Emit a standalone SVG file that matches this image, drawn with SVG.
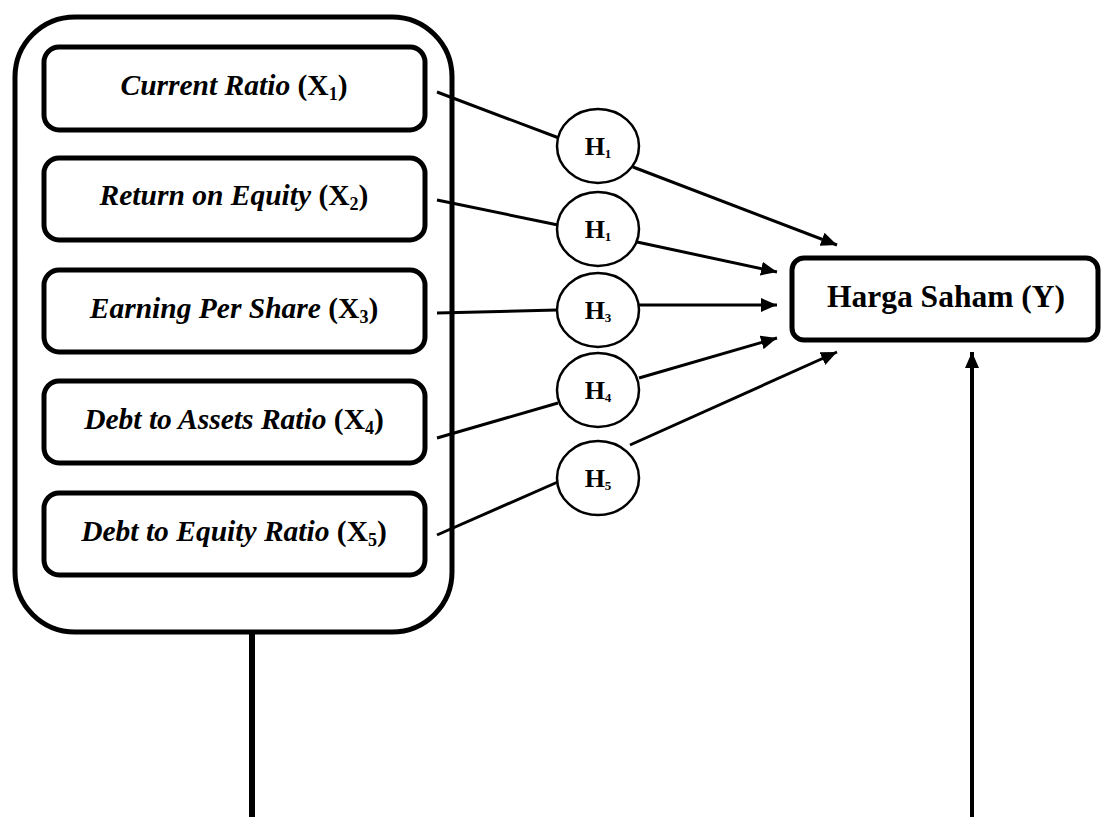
<svg xmlns="http://www.w3.org/2000/svg" width="1103" height="817" viewBox="0 0 1103 817">
<style>
.box{fill:#fff;stroke:#000;stroke-width:5}
.hyp{fill:#fff;stroke:#000;stroke-width:2.5}
.lbl{font-family:"Liberation Serif","Times New Roman",serif;font-weight:bold;font-style:italic;font-size:29.5px;text-anchor:middle;fill:#000}
.up{font-style:normal}
.ylbl{font-family:"Liberation Serif","Times New Roman",serif;font-weight:bold;font-size:31.5px;text-anchor:middle;fill:#000}
.hl{font-family:"Liberation Serif","Times New Roman",serif;font-weight:bold;font-size:26px;text-anchor:middle;fill:#000}
.ln{stroke:#000;stroke-width:3;fill:none}
.arr{stroke:#000;stroke-width:3;fill:none;marker-end:url(#ah)}
</style>
<defs>
<marker id="ah" markerUnits="userSpaceOnUse" markerWidth="18" markerHeight="14" refX="16" refY="7" orient="auto">
<path d="M0,0 L16,7 L0,14 Z" fill="#000"/>
</marker>
</defs>
<rect width="1103" height="817" fill="#fff"/>
<g id="outer">
<rect x="15" y="17" width="437" height="615" rx="60" ry="60" class="box"/>
</g>
<g id="connectors">
<line class="ln" x1="437" y1="92" x2="559" y2="138"/>
<line class="ln" x1="437" y1="200" x2="558" y2="225"/>
<line class="ln" x1="437" y1="313" x2="557" y2="310"/>
<line class="ln" x1="437" y1="438" x2="558" y2="403"/>
<line class="ln" x1="437" y1="535" x2="560" y2="481"/>
<line class="arr" x1="633" y1="167" x2="837" y2="245"/>
<line class="arr" x1="637" y1="242" x2="777" y2="272"/>
<line class="arr" x1="639" y1="305" x2="777" y2="305"/>
<line class="arr" x1="639" y1="378" x2="777" y2="338"/>
<line class="arr" x1="630" y1="445" x2="837" y2="352"/>
<line class="ln" x1="252" y1="632" x2="252" y2="817" style="stroke-width:6"/>
<line class="arr" x1="972" y1="817" x2="972" y2="352" style="stroke-width:4"/>
</g>
<g id="x1">
<rect x="44" y="47" width="381" height="83" rx="15" class="box"/>
<text class="lbl" x="234" y="95">Current Ratio <tspan class="up">(X<tspan font-size="18" dy="5">1</tspan><tspan dy="-5">)</tspan></tspan></text>
</g>
<g id="x2">
<rect x="44" y="158" width="381" height="82" rx="15" class="box"/>
<text class="lbl" x="234" y="205">Return on Equity <tspan class="up">(X<tspan font-size="18" dy="5">2</tspan><tspan dy="-5">)</tspan></tspan></text>
</g>
<g id="x3">
<rect x="44" y="270" width="381" height="82" rx="15" class="box"/>
<text class="lbl" x="234" y="318">Earning Per Share <tspan class="up">(X<tspan font-size="18" dy="5">3</tspan><tspan dy="-5">)</tspan></tspan></text>
</g>
<g id="x4">
<rect x="44" y="381" width="381" height="82" rx="15" class="box"/>
<text class="lbl" x="234" y="429">Debt to Assets Ratio <tspan class="up">(X<tspan font-size="18" dy="5">4</tspan><tspan dy="-5">)</tspan></tspan></text>
</g>
<g id="x5">
<rect x="44" y="493" width="381" height="82" rx="15" class="box"/>
<text class="lbl" x="234" y="541">Debt to Equity Ratio <tspan class="up">(X<tspan font-size="18" dy="5">5</tspan><tspan dy="-5">)</tspan></tspan></text>
</g>
<g id="h1">
<ellipse cx="598" cy="146" rx="41" ry="37" class="hyp"/>
<text class="hl" x="598" y="155">H<tspan font-size="13" dy="3">1</tspan></text>
</g>
<g id="h2">
<ellipse cx="598" cy="229" rx="41" ry="37" class="hyp"/>
<text class="hl" x="598" y="238">H<tspan font-size="13" dy="3">1</tspan></text>
</g>
<g id="h3">
<ellipse cx="598" cy="310" rx="41" ry="37" class="hyp"/>
<text class="hl" x="598" y="319">H<tspan font-size="13" dy="3">3</tspan></text>
</g>
<g id="h4">
<ellipse cx="598" cy="390" rx="41" ry="37" class="hyp"/>
<text class="hl" x="598" y="399">H<tspan font-size="13" dy="3">4</tspan></text>
</g>
<g id="h5">
<ellipse cx="598" cy="478" rx="41" ry="37" class="hyp"/>
<text class="hl" x="598" y="487">H<tspan font-size="13" dy="3">5</tspan></text>
</g>
<g id="y">
<rect x="792" y="258" width="306" height="82" rx="12" class="box"/>
<text class="ylbl" x="946" y="307">Harga Saham (Y)</text>
</g>
</svg>
